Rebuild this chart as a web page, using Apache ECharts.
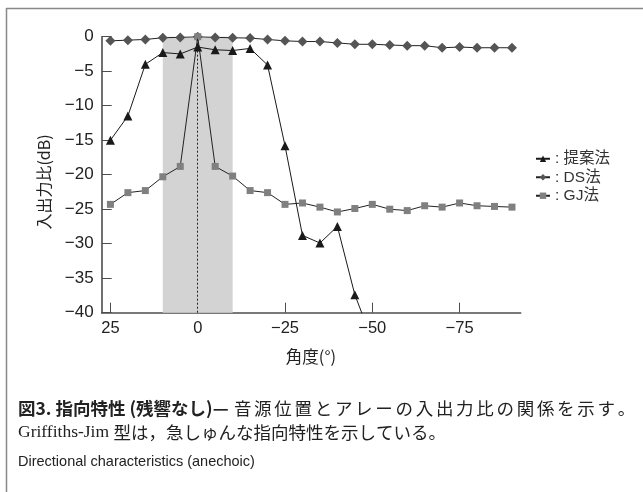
<!DOCTYPE html>
<html><head><meta charset="utf-8">
<script src="https://cdn.jsdelivr.net/npm/echarts@6/dist/echarts.min.js"></script>
<style>html,body{margin:0;padding:0;background:#fff}#c{width:643px;height:492px}</style>
</head><body><div id="c"></div>
<script>
const angles = [25,20,15,10,5,0,-5,-10,-15,-20,-25,-30,-35,-40,-45,-50,-55,-60,-65,-70,-75,-80,-85,-90];
const proposed = [-15,-11.5,-4,-2.3,-2.5,-1.5,-1.9,-2.0,-1.7,-4.1,-15.8,-28.8,-29.9,-27.5,-37.4,-44];
const ds = [-0.6,-0.5,-0.4,-0.15,-0.1,0,-0.1,-0.15,-0.2,-0.4,-0.6,-0.7,-0.7,-0.9,-1.1,-1.1,-1.2,-1.3,-1.3,-1.6,-1.5,-1.6,-1.6,-1.6];
const gj = [-24.3,-22.6,-22.3,-20.3,-18.8,0,-18.8,-20.2,-22.3,-22.6,-24.3,-24.1,-24.7,-25.4,-24.9,-24.3,-25.0,-25.2,-24.5,-24.7,-24.1,-24.5,-24.6,-24.7];
const xTicks = [25,0,-25,-50,-75];
const seriesNames = ['提案法','DS法','GJ法'];
const bandRange = [10,-10];

const pair = (vals) => vals.map((v,i)=>[angles[i], v]);
const minus = v => String(v).replace('-', '\u2212');
const sans = '"Liberation Sans", Arial, "Noto Sans CJK JP", sans-serif';
const line1Rest = '音源位置とアレーの入出力比の関係を示す。';
const spaced = Array.from(line1Rest).map(c => '{n|' + c + '}').join('');

const chart = echarts.init(document.getElementById('c'));
chart.setOption({
  animation:false,
  textStyle:{fontFamily:sans},
  grid:{left:101.7, right:122.3, top:36.7, bottom:179.3},
  xAxis:{type:'value', inverse:true, min:-92.5, max:27.5,
    axisLine:{onZero:false, lineStyle:{color:'#4d4d4d', width:1.6}},
    axisTick:{inside:true, length:10, customValues:xTicks, lineStyle:{color:'#4d4d4d'}},
    axisLabel:{customValues:xTicks, formatter:minus, color:'#222', fontSize:16.5, margin:8, fontFamily:sans},
    splitLine:{show:false}},
  yAxis:{type:'value', min:-40, max:0, interval:5,
    axisLine:{show:true, onZero:false, lineStyle:{color:'#4d4d4d', width:1.6}},
    axisTick:{show:true, inside:true, length:10, lineStyle:{color:'#4d4d4d'}},
    axisLabel:{formatter:minus, color:'#222', fontSize:17, margin:8, fontFamily:sans},
    splitLine:{show:false}},
  legend:{orient:'vertical', left:530, top:146, itemWidth:14, itemHeight:8, itemGap:3,
    formatter:n=>': '+n,
    textStyle:{fontSize:15.5, color:'#333', fontFamily:sans}},
  series:[
    {name:seriesNames[0], type:'line', data:pair(proposed), symbol:'triangle', symbolSize:9,
      itemStyle:{color:'#1a1a1a'}, lineStyle:{color:'#1a1a1a', width:1}, z:5,
      markArea:{silent:true, itemStyle:{color:'#d3d3d4'}, data:[[{xAxis:bandRange[0]},{xAxis:bandRange[1]}]]},
      markLine:{silent:true, symbol:'none', label:{show:false}, lineStyle:{color:'#222', type:[2,2], width:1}, data:[{xAxis:0}]}},
    {name:seriesNames[1], type:'line', data:pair(ds), symbol:'diamond', symbolSize:[10,10],
      itemStyle:{color:'#555'}, lineStyle:{color:'#222', width:1}, z:3},
    {name:seriesNames[2], type:'line', data:pair(gj), symbol:'rect', symbolSize:7,
      itemStyle:{color:'#808080'}, lineStyle:{color:'#222', width:1}, z:4}
  ],
  graphic:[
    {type:'line', shape:{x1:6, y1:8.5, x2:643, y2:8.5}, style:{stroke:'#888', lineWidth:1.5}},
    {type:'line', shape:{x1:6.5, y1:8, x2:6.5, y2:492}, style:{stroke:'#888', lineWidth:1.5}},
    {type:'text', x:44, y:182, rotation:Math.PI/2, style:{text:'入出力比(dB)', font:'16px "Noto Sans CJK JP"', fill:'#222', align:'center', verticalAlign:'middle'}},
    {type:'text', x:311, y:357, style:{text:'角度(°)', font:'16.5px "Noto Sans CJK JP"', fill:'#222', align:'center', verticalAlign:'middle'}},
    {type:'text', x:18, y:408, style:{rich:{b:{fontSize:17.5, fontWeight:'bold', fontFamily:'"Noto Sans CJK JP"', fill:'#222'}, n:{fontSize:17.5, padding:[0,1.35,0,1.35], fontFamily:'"Noto Sans CJK JP"', fill:'#222'}}, text:'{b|図3. 指向特性 (残響なし)— }' + spaced, verticalAlign:'middle'}},
    {type:'text', x:18, y:432, style:{rich:{l:{fontSize:17.5, fontFamily:'"Liberation Serif"', fill:'#222'}, n:{fontSize:17.5, fontFamily:'"Noto Sans CJK JP"', fill:'#222'}}, text:'{l|Griffiths-Jim }{n|型は，急しゅんな指向特性を示している。}', verticalAlign:'middle'}},
    {type:'text', x:18, y:462, style:{text:'Directional characteristics (anechoic)', font:'14.5px "Liberation Sans Narrow","Liberation Sans"', fill:'#222', verticalAlign:'middle'}}
  ]
});
</script></body></html>
